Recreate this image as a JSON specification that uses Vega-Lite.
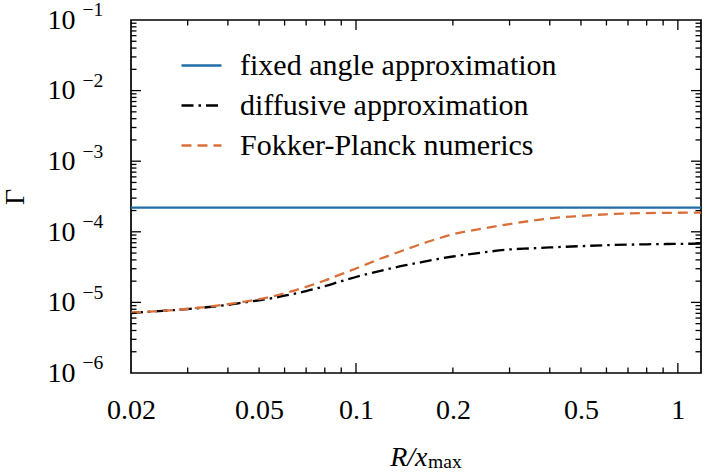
{
  "$schema": "https://vega.github.io/schema/vega-lite/v6.json",
  "autosize": {"type": "none"},
  "padding": {"left": 131, "top": 20, "right": 5, "bottom": 100},
  "width": 570,
  "height": 353,
  "background": "white",
  "config": {
    "view": {"stroke": "black", "strokeWidth": 1.7},
    "axis": {"grid": false, "domain": false, "labelColor": "black", "titleColor": "black", "labelFont": "Liberation Serif", "titleFont": "Liberation Serif", "titleFontWeight": "normal", "labelFlush": false, "labelOverlap": false, "labelBound": false},
    "text": {"font": "Liberation Serif", "color": "black"}
  },
  "datasets": {
    "xmaj": [{"v": 0.1}, {"v": 1}],
    "xmin": [{"v": 0.03}, {"v": 0.04}, {"v": 0.05}, {"v": 0.06}, {"v": 0.07}, {"v": 0.08}, {"v": 0.09}, {"v": 0.2}, {"v": 0.3}, {"v": 0.4}, {"v": 0.5}, {"v": 0.6}, {"v": 0.7}, {"v": 0.8}, {"v": 0.9}],
    "ymaj": [{"v": 1e-5}, {"v": 1e-4}, {"v": 1e-3}, {"v": 1e-2}],
    "ymin": [
      {"v": 2e-6}, {"v": 3e-6}, {"v": 4e-6}, {"v": 5e-6}, {"v": 6e-6}, {"v": 7e-6}, {"v": 8e-6}, {"v": 9e-6},
      {"v": 2e-5}, {"v": 3e-5}, {"v": 4e-5}, {"v": 5e-5}, {"v": 6e-5}, {"v": 7e-5}, {"v": 8e-5}, {"v": 9e-5},
      {"v": 2e-4}, {"v": 3e-4}, {"v": 4e-4}, {"v": 5e-4}, {"v": 6e-4}, {"v": 7e-4}, {"v": 8e-4}, {"v": 9e-4},
      {"v": 2e-3}, {"v": 3e-3}, {"v": 4e-3}, {"v": 5e-3}, {"v": 6e-3}, {"v": 7e-3}, {"v": 8e-3}, {"v": 9e-3},
      {"v": 2e-2}, {"v": 3e-2}, {"v": 4e-2}, {"v": 5e-2}, {"v": 6e-2}, {"v": 7e-2}, {"v": 8e-2}, {"v": 9e-2}
    ],
    "exps": [{"v": 1e-6, "e": "−6"}, {"v": 1e-5, "e": "−5"}, {"v": 1e-4, "e": "−4"}, {"v": 1e-3, "e": "−3"}, {"v": 1e-2, "e": "−2"}, {"v": 1e-1, "e": "−1"}],
    "sub": [{"t": "max"}]
  },
  "data": {"values": [
    {"x": 0.02, "y": 2.2e-4, "s": "fixed angle approximation"},
    {"x": 1.18, "y": 2.2e-4, "s": "fixed angle approximation"},
    {"x": 0.02, "y": 7.08e-6, "s": "diffusive approximation"},
    {"x": 0.025, "y": 7.59e-6, "s": "diffusive approximation"},
    {"x": 0.03, "y": 8.04e-6, "s": "diffusive approximation"},
    {"x": 0.035, "y": 8.61e-6, "s": "diffusive approximation"},
    {"x": 0.04, "y": 9.23e-6, "s": "diffusive approximation"},
    {"x": 0.045, "y": 1.0e-5, "s": "diffusive approximation"},
    {"x": 0.05, "y": 1.072e-5, "s": "diffusive approximation"},
    {"x": 0.055, "y": 1.148e-5, "s": "diffusive approximation"},
    {"x": 0.06, "y": 1.245e-5, "s": "diffusive approximation"},
    {"x": 0.07, "y": 1.445e-5, "s": "diffusive approximation"},
    {"x": 0.08, "y": 1.698e-5, "s": "diffusive approximation"},
    {"x": 0.09, "y": 1.995e-5, "s": "diffusive approximation"},
    {"x": 0.1, "y": 2.291e-5, "s": "diffusive approximation"},
    {"x": 0.12, "y": 2.818e-5, "s": "diffusive approximation"},
    {"x": 0.14, "y": 3.311e-5, "s": "diffusive approximation"},
    {"x": 0.16, "y": 3.715e-5, "s": "diffusive approximation"},
    {"x": 0.18, "y": 4.121e-5, "s": "diffusive approximation"},
    {"x": 0.2, "y": 4.467e-5, "s": "diffusive approximation"},
    {"x": 0.25, "y": 5.129e-5, "s": "diffusive approximation"},
    {"x": 0.3, "y": 5.623e-5, "s": "diffusive approximation"},
    {"x": 0.35, "y": 5.821e-5, "s": "diffusive approximation"},
    {"x": 0.4, "y": 5.998e-5, "s": "diffusive approximation"},
    {"x": 0.5, "y": 6.266e-5, "s": "diffusive approximation"},
    {"x": 0.6, "y": 6.457e-5, "s": "diffusive approximation"},
    {"x": 0.7, "y": 6.577e-5, "s": "diffusive approximation"},
    {"x": 0.8, "y": 6.653e-5, "s": "diffusive approximation"},
    {"x": 1.0, "y": 6.745e-5, "s": "diffusive approximation"},
    {"x": 1.18, "y": 6.792e-5, "s": "diffusive approximation"},
    {"x": 0.02, "y": 7.16e-6, "s": "Fokker-Planck numerics"},
    {"x": 0.025, "y": 7.59e-6, "s": "Fokker-Planck numerics"},
    {"x": 0.03, "y": 8.13e-6, "s": "Fokker-Planck numerics"},
    {"x": 0.035, "y": 8.71e-6, "s": "Fokker-Planck numerics"},
    {"x": 0.04, "y": 9.44e-6, "s": "Fokker-Planck numerics"},
    {"x": 0.045, "y": 1.023e-5, "s": "Fokker-Planck numerics"},
    {"x": 0.05, "y": 1.109e-5, "s": "Fokker-Planck numerics"},
    {"x": 0.055, "y": 1.216e-5, "s": "Fokker-Planck numerics"},
    {"x": 0.06, "y": 1.349e-5, "s": "Fokker-Planck numerics"},
    {"x": 0.07, "y": 1.66e-5, "s": "Fokker-Planck numerics"},
    {"x": 0.08, "y": 2.042e-5, "s": "Fokker-Planck numerics"},
    {"x": 0.09, "y": 2.512e-5, "s": "Fokker-Planck numerics"},
    {"x": 0.1, "y": 3.02e-5, "s": "Fokker-Planck numerics"},
    {"x": 0.12, "y": 4.217e-5, "s": "Fokker-Planck numerics"},
    {"x": 0.14, "y": 5.433e-5, "s": "Fokker-Planck numerics"},
    {"x": 0.16, "y": 6.761e-5, "s": "Fokker-Planck numerics"},
    {"x": 0.18, "y": 8.035e-5, "s": "Fokker-Planck numerics"},
    {"x": 0.2, "y": 9.226e-5, "s": "Fokker-Planck numerics"},
    {"x": 0.25, "y": 1.122e-4, "s": "Fokker-Planck numerics"},
    {"x": 0.3, "y": 1.288e-4, "s": "Fokker-Planck numerics"},
    {"x": 0.35, "y": 1.429e-4, "s": "Fokker-Planck numerics"},
    {"x": 0.4, "y": 1.549e-4, "s": "Fokker-Planck numerics"},
    {"x": 0.5, "y": 1.679e-4, "s": "Fokker-Planck numerics"},
    {"x": 0.6, "y": 1.77e-4, "s": "Fokker-Planck numerics"},
    {"x": 0.7, "y": 1.82e-4, "s": "Fokker-Planck numerics"},
    {"x": 0.8, "y": 1.841e-4, "s": "Fokker-Planck numerics"},
    {"x": 1.0, "y": 1.862e-4, "s": "Fokker-Planck numerics"},
    {"x": 1.18, "y": 1.875e-4, "s": "Fokker-Planck numerics"}
  ]},
  "layer": [
    {
      "mark": {"type": "line", "strokeWidth": 2.3, "interpolate": "monotone"},
      "encoding": {
        "x": {"field": "x", "type": "quantitative", "scale": {"type": "log", "domain": [0.02, 1.18], "nice": false},
          "axis": {"orient": "bottom", "values": [0.02, 0.05, 0.1, 0.2, 0.5, 1], "format": "~g", "ticks": false, "labelFontSize": 28, "labelBaseline": "alphabetic", "labelPadding": 45,
            "title": "R/x", "titleFontSize": 28, "titleFontStyle": "italic", "titleAlign": "right", "titleBaseline": "alphabetic", "titleAnchor": null, "titleX": 296, "titleY": 92}},
        "y": {"field": "y", "type": "quantitative", "scale": {"type": "log", "domain": [1e-6, 1e-1], "nice": false},
          "axis": {"orient": "left", "values": [1e-6, 1e-5, 1e-4, 1e-3, 1e-2, 1e-1], "ticks": false, "labelExpr": "'10'", "labelFontSize": 28, "labelAlign": "right", "labelBaseline": "alphabetic", "labelPadding": 56, "labelOffset": 8.3,
            "title": "Γ", "titleFontSize": 28, "titleAngle": 270, "titleAlign": "center", "titleBaseline": "alphabetic", "titleAnchor": null, "titleX": -108, "titleY": 176.5}},
        "color": {"field": "s", "type": "nominal",
          "scale": {"domain": ["fixed angle approximation", "diffusive approximation", "Fokker-Planck numerics"], "range": ["#1f6ea8", "#000000", "#d9703a"]},
          "legend": {"title": null, "orient": "none", "legendX": 49, "legendY": 24, "padding": 0, "symbolType": "stroke", "symbolSize": 1600, "symbolStrokeWidth": 2.3, "labelFont": "Liberation Serif", "labelFontSize": 30, "labelColor": "black", "labelOffset": 17, "labelLimit": 0, "rowPadding": 3}},
        "strokeDash": {"field": "s", "type": "nominal",
          "scale": {"domain": ["fixed angle approximation", "diffusive approximation", "Fokker-Planck numerics"], "range": [[1, 0], [12, 5, 2.5, 5], [10, 6]]},
          "legend": {"title": null, "orient": "none", "legendX": 49, "legendY": 24, "padding": 0, "symbolType": "stroke", "symbolSize": 1600, "symbolStrokeWidth": 2.3, "labelFont": "Liberation Serif", "labelFontSize": 30, "labelColor": "black", "labelOffset": 17, "labelLimit": 0, "rowPadding": 3}}
      }
    },
    {
      "data": {"name": "xmaj"},
      "mark": {"type": "rule", "color": "black", "strokeWidth": 1.3},
      "encoding": {"x": {"field": "v", "type": "quantitative"}, "y": {"datum": 1e-6, "type": "quantitative"}, "y2": {"datum": 1.386e-6}}
    },
    {
      "data": {"name": "xmin"},
      "mark": {"type": "rule", "color": "black", "strokeWidth": 1.3},
      "encoding": {"x": {"field": "v", "type": "quantitative"}, "y": {"datum": 1e-6, "type": "quantitative"}, "y2": {"datum": 1.196e-6}}
    },
    {
      "data": {"name": "xmaj"},
      "mark": {"type": "rule", "color": "black", "strokeWidth": 1.3},
      "encoding": {"x": {"field": "v", "type": "quantitative"}, "y": {"datum": 0.1, "type": "quantitative"}, "y2": {"datum": 0.07215}}
    },
    {
      "data": {"name": "xmin"},
      "mark": {"type": "rule", "color": "black", "strokeWidth": 1.3},
      "encoding": {"x": {"field": "v", "type": "quantitative"}, "y": {"datum": 0.1, "type": "quantitative"}, "y2": {"datum": 0.0836}}
    },
    {
      "data": {"name": "ymaj"},
      "mark": {"type": "rule", "color": "black", "strokeWidth": 1.3},
      "encoding": {"y": {"field": "v", "type": "quantitative"}, "x": {"datum": 0.02, "type": "quantitative"}, "x2": {"datum": 0.021482}}
    },
    {
      "data": {"name": "ymin"},
      "mark": {"type": "rule", "color": "black", "strokeWidth": 1.3},
      "encoding": {"y": {"field": "v", "type": "quantitative"}, "x": {"datum": 0.02, "type": "quantitative"}, "x2": {"datum": 0.020802}}
    },
    {
      "data": {"name": "ymaj"},
      "mark": {"type": "rule", "color": "black", "strokeWidth": 1.3},
      "encoding": {"y": {"field": "v", "type": "quantitative"}, "x": {"datum": 1.18, "type": "quantitative"}, "x2": {"datum": 1.09859}}
    },
    {
      "data": {"name": "ymin"},
      "mark": {"type": "rule", "color": "black", "strokeWidth": 1.3},
      "encoding": {"y": {"field": "v", "type": "quantitative"}, "x": {"datum": 1.18, "type": "quantitative"}, "x2": {"datum": 1.13451}}
    },
    {
      "data": {"name": "exps"},
      "mark": {"type": "text", "align": "right", "baseline": "alphabetic", "fontSize": 19.6, "dx": -27.7, "dy": -3.7},
      "encoding": {"y": {"field": "v", "type": "quantitative"}, "x": {"datum": 0.02, "type": "quantitative"}, "text": {"field": "e"}}
    },
    {
      "data": {"name": "sub"},
      "mark": {"type": "text", "align": "left", "baseline": "alphabetic", "fontSize": 19.6, "dy": 94.5},
      "encoding": {"x": {"datum": 0.1674, "type": "quantitative"}, "y": {"datum": 1e-6, "type": "quantitative"}, "text": {"field": "t"}}
    }
  ]
}
